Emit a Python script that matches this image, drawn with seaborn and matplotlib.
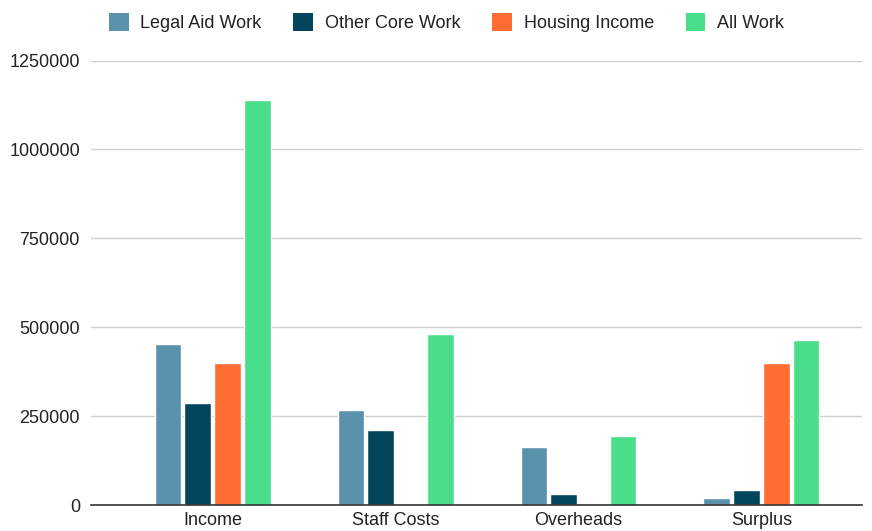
import pandas as pd
import seaborn as sns
import matplotlib.pyplot as plt
from matplotlib.patches import Patch

# Values
categories = ["Income", "Staff Costs", "Overheads", "Surplus"]
series = ["Legal Aid Work", "Other Core Work", "Housing Income", "All Work"]
legal_aid = [452000, 268000, 163000, 21000]
other_core = [286000, 212000, 32000, 42000]
housing = [400000, 0, 0, 400000]
all_work = [1138000, 480000, 195000, 463000]
yticks = [0, 250000, 500000, 750000, 1000000, 1250000]

colors = ["#5a92ae", "#02465e", "#ff6d33", "#4ade8b"]

# long-form table for seaborn
rows = []
for name, vals in zip(series, [legal_aid, other_core, housing, all_work]):
    for cat, v in zip(categories, vals):
        rows.append({"category": cat, "series": name, "value": v})
df = pd.DataFrame(rows)

sns.set_style("white")
plt.rcParams["font.family"] = ["Liberation Sans", "DejaVu Sans"]

fig = plt.figure(figsize=(8.72, 5.31), dpi=100)
ax = fig.add_axes([91 / 872, 1 - 505 / 531, 771 / 872, 444.5 / 531])

sns.barplot(data=df, x="category", y="value", hue="series", hue_order=series,
            palette=colors, width=0.65, gap=0.1, saturation=1, ax=ax,
            legend=False)

ax.set_ylim(0, 1250000)
ax.set_xlim(-0.665, 3.55)
ax.set_yticks(yticks)
ax.set_yticklabels([str(t) for t in yticks])
ax.yaxis.grid(True, color="#d0d0d0", linewidth=1)
ax.set_axisbelow(True)
for s in ["top", "right", "left"]:
    ax.spines[s].set_visible(False)
ax.spines["bottom"].set_color("#333333")
ax.spines["bottom"].set_linewidth(1.2)
ax.tick_params(axis="y", length=0, pad=8, labelsize=13, labelcolor="#222222")
ax.tick_params(axis="x", length=0, pad=5, labelsize=13, labelcolor="#222222")
ax.set_xlabel("")
ax.set_ylabel("")

handles = [Patch(facecolor=c, edgecolor="none") for c in colors]
fig.legend(handles, series, loc="center", bbox_to_anchor=(0.512, 0.957), ncol=4,
           frameon=False, fontsize=13, handlelength=1.1, handleheight=1.1,
           handletextpad=0.65, columnspacing=1.75, labelcolor="#222222")

fig.savefig("out.png", dpi=100)
